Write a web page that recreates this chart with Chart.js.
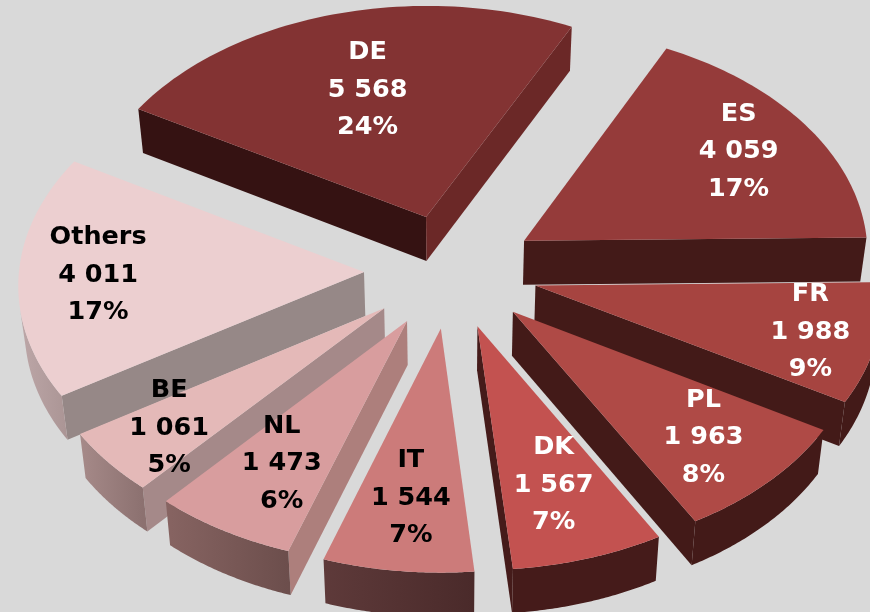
<!DOCTYPE html>
<html>
<head>
<meta charset="utf-8">
<style>
  html, body { margin: 0; padding: 0; background: #d9d9d9; overflow: hidden; }
  canvas { display: block; }
</style>
</head>
<body>
<canvas id="myChart" width="870" height="612"></canvas>
<script src="https://cdn.jsdelivr.net/npm/chart.js@4"></script>
<script>
"use strict";
const names = ["DE", "ES", "FR", "PL", "DK", "IT", "NL", "BE", "Others"];
const amounts = [5568, 4059, 1988, 1963, 1567, 1544, 1473, 1061, 4011];

const topColors = ["#833333", "#953b3a", "#a64440", "#af4a46", "#c35250", "#cc7b7a", "#d89d9e", "#e4b9b8", "#eccfd0"];
const startWallColors = ["#351212", "#431a18", "#431a18", "#431a18", "#451b1a", "#57332f", "#ad7f7c", "#a58989", "#968887"];
const endWallColors = ["#6b2827", "#431a18", "#431a18", "#431a18", "#451b1a", "#57332f", "#ad7f7c", "#a58989", "#968887"];
const arcWallLeft = ["#6b2827", "#431a18", "#431a18", "#431a18", "#451b1a", "#5e3a3a", "#876462", "#a68a89", "#bda7a8"];
const arcWallRight = ["#6b2827", "#431a18", "#431a18", "#431a18", "#451b1a", "#4a2a2a", "#6c4e4c", "#8c7170", "#a89292"];
const textColors = ["#fff", "#fff", "#fff", "#fff", "#fff", "#000", "#000", "#000", "#000"];
const labelReach = [0.615, 0.76, 0.81, 0.75, 0.695, 0.71, 0.69, 0.785, 0.77];

// tilt of the pie plane
const tilt = 0.6565;
const persp = 0.0001415;
const wallDepth = 44;
const wallShrink = 0.985;
const lineGap = 37.5;

function project(el, gx, gy, low) {
    const w = 1 - persp * gy;
    const x = gx / w;
    const y = tilt * gy / w;
    if (low) return [el.x + x * wallShrink, el.y + y + wallDepth];
    return [el.x + x, el.y + y];
}

function facesViewer(a, b, c, d) {
    const pts = [a, b, c, d];
    let sum = 0;
    pts.forEach((p, i) => {
        const q = pts[(i + 1) % 4];
        sum += p[0] * q[1] - q[0] * p[1];
    });
    return sum < 0;
}

function fillPoly(ctx, pts, color) {
    ctx.fillStyle = color;
    ctx.beginPath();
    pts.forEach((p, i) => {
        if (i === 0) ctx.moveTo(p[0], p[1]);
        else ctx.lineTo(p[0], p[1]);
    });
    ctx.closePath();
    ctx.fill();
}

function drawSlice(ctx, el, i) {
    const mid = (el.startAngle + el.endAngle) / 2;
    const off = el.options.offset;
    const ox = Math.cos(mid) * off;
    const oy = Math.sin(mid) * off;
    const steps = 60;
    const rim = [];
    for (let s = 0; s <= steps; s++) {
        const a = el.startAngle + (el.endAngle - el.startAngle) * s / steps;
        rim.push([ox + Math.cos(a) * el.outerRadius, oy + Math.sin(a) * el.outerRadius]);
    }
    const topAt = p => project(el, p[0], p[1], false);
    const lowAt = p => project(el, p[0], p[1], true);
    const apex = [ox, oy];

    // radial walls
    const first = rim[0];
    const last = rim[steps];
    if (facesViewer(topAt(apex), topAt(first), lowAt(first), lowAt(apex))) {
        fillPoly(ctx, [topAt(apex), topAt(first), lowAt(first), lowAt(apex)], startWallColors[i]);
    }
    if (facesViewer(topAt(last), topAt(apex), lowAt(apex), lowAt(last))) {
        fillPoly(ctx, [topAt(last), topAt(apex), lowAt(apex), lowAt(last)], endWallColors[i]);
    }

    // outer wall, shaded left to right
    const xs = rim.map(p => topAt(p)[0]);
    const grad = ctx.createLinearGradient(Math.min(...xs), 0, Math.max(...xs), 0);
    grad.addColorStop(0, arcWallLeft[i]);
    grad.addColorStop(1, arcWallRight[i]);
    const upper = [];
    const lower = [];
    for (let s = 0; s < steps; s++) {
        const a = topAt(rim[s]);
        const b = topAt(rim[s + 1]);
        if (facesViewer(a, b, lowAt(rim[s + 1]), lowAt(rim[s]))) {
            if (upper.length === 0) {
                upper.push(a);
                lower.push(lowAt(rim[s]));
            }
            upper.push(b);
            lower.push(lowAt(rim[s + 1]));
        }
    }
    if (upper.length) fillPoly(ctx, upper.concat(lower.reverse()), grad);

    // top face
    fillPoly(ctx, [topAt(apex)].concat(rim.map(topAt)), el.options.backgroundColor);
}

const tiltedPie = {
    id: "tiltedPie",
    beforeDatasetsDraw(chart) {
        const ctx = chart.ctx;
        const arcs = chart.getDatasetMeta(0).data;
        const order = arcs.map((el, i) => i).sort((a, b) =>
            Math.sin((arcs[a].startAngle + arcs[a].endAngle) / 2) - Math.sin((arcs[b].startAngle + arcs[b].endAngle) / 2));
        ctx.save();
        order.forEach(i => drawSlice(ctx, arcs[i], i));
        ctx.restore();
        return false;
    },
    afterDraw(chart) {
        const ctx = chart.ctx;
        const arcs = chart.getDatasetMeta(0).data;
        const total = amounts.reduce((a, b) => a + b, 0);
        ctx.save();
        ctx.font = "bold 25.5px 'DejaVu Sans'";
        ctx.textAlign = "center";
        ctx.textBaseline = "middle";
        arcs.forEach((el, i) => {
            const mid = (el.startAngle + el.endAngle) / 2;
            const reach = el.options.offset + el.outerRadius * labelReach[i];
            const p = project(el, Math.cos(mid) * reach, Math.sin(mid) * reach, false);
            const lines = [
                names[i],
                String(amounts[i]).replace(/\B(?=(\d{3})+$)/g, " "),
                Math.round(amounts[i] / total * 100) + "%"
            ];
            ctx.fillStyle = textColors[i];
            lines.forEach((t, n) => ctx.fillText(t, p[0], p[1] + (n - 1) * lineGap));
        });
        ctx.restore();
    }
};

new Chart(document.querySelector("#myChart").getContext("2d"), {
    type: "pie",
    data: {
        labels: names,
        datasets: [{
            data: amounts,
            backgroundColor: topColors,
            borderWidth: 0,
            offset: 87
        }]
    },
    options: {
        responsive: false,
        animation: false,
        rotation: -60,
        radius: 345,
        layout: { padding: { left: 32, bottom: 70 } },
        plugins: {
            legend: { display: false },
            tooltip: { enabled: false }
        }
    },
    plugins: [tiltedPie]
});
</script>
</body>
</html>
